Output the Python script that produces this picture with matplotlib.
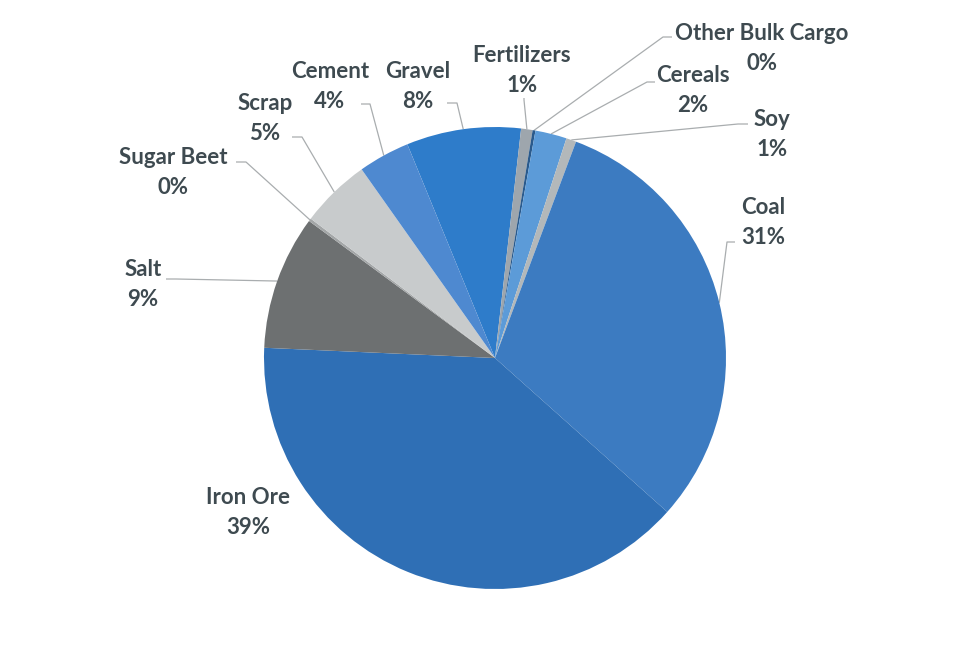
import numpy as np
import matplotlib
matplotlib.use("Agg")
import matplotlib.pyplot as plt

# data, clockwise from the Gravel slice
categories = ["Gravel", "Fertilizers", "Other Bulk Cargo", "Cereals", "Soy", "Coal",
              "Iron Ore", "Salt", "Sugar Beet", "Scrap", "Cement"]
shares = [8.0, 0.8, 0.2, 2.2, 0.7, 30.9, 39.1, 9.4, 0.2, 4.9, 3.6]
colors = ["#2e7cca", "#9ea6ad", "#2a5a8c", "#5c9bd8", "#b3b8ba", "#3c7bc1",
          "#2f6fb5", "#6d7071", "#a3a6a7", "#c8cbcc", "#4e89d0"]

# label layout in pixels (x, y from top): text centre, leader start, leader elbow
label_pos = {
    "Gravel": (418, 87), "Fertilizers": (522, 70), "Other Bulk Cargo": (762, 48),
    "Cereals": (693, 90), "Soy": (772, 135), "Coal": (763, 222),
    "Iron Ore": (248, 512), "Salt": (143, 285), "Sugar Beet": (173, 172),
    "Scrap": (265, 118), "Cement": (330, 87),
}
leader = {
    "Gravel": [(447, 103), (457, 103)],
    "Fertilizers": [(524, 98), (524, 100)],
    "Other Bulk Cargo": [(672, 37), (663, 37)],
    "Cereals": [(655, 82), (647, 82)],
    "Soy": [(748, 124), (738, 124)],
    "Coal": [(735, 242), (727, 242)],
    "Salt": [(166, 279), (176, 279)],
    "Sugar Beet": [(236, 162), (246, 162)],
    "Scrap": [(292, 137), (302, 137)],
    "Cement": [(361, 104), (370, 104)],
}
LINE_GAP = 30

W, H = 979, 645
CX, CY, R = 495, 358, 231

fig = plt.figure(figsize=(W / 100, H / 100), dpi=100)
ax = fig.add_axes([0, 0, 1, 1])

wedges, _ = ax.pie(shares, colors=colors, startangle=112.3, counterclock=False,
                   center=(CX, H - CY), radius=R, wedgeprops=dict(linewidth=0))
ax.set_xlim(0, W)
ax.set_ylim(0, H)
ax.set_aspect("equal")
ax.axis("off")

text_kw = dict(ha="center", va="center", fontsize=16, fontweight="bold",
               color="#3e4a50", family=["Lato", "DejaVu Sans"])

for name, val, w in zip(categories, shares, wedges):
    x, y = label_pos[name]
    ax.text(x, H - (y - LINE_GAP / 2), name, **text_kw)
    ax.text(x, H - (y + LINE_GAP / 2), f"{round(val)}%", **text_kw)
    if name not in leader:
        continue
    mid = np.deg2rad((w.theta1 + w.theta2) / 2)
    ex, ey = CX + R * np.cos(mid), (H - CY) + R * np.sin(mid)
    (sx, sy), (bx, by) = leader[name]
    ax.plot([sx, bx, ex], [H - sy, H - by, ey], color="#a9adaf", lw=0.9,
            solid_capstyle="butt", zorder=0.5)

fig.savefig("out.png", dpi=100, facecolor="white")
